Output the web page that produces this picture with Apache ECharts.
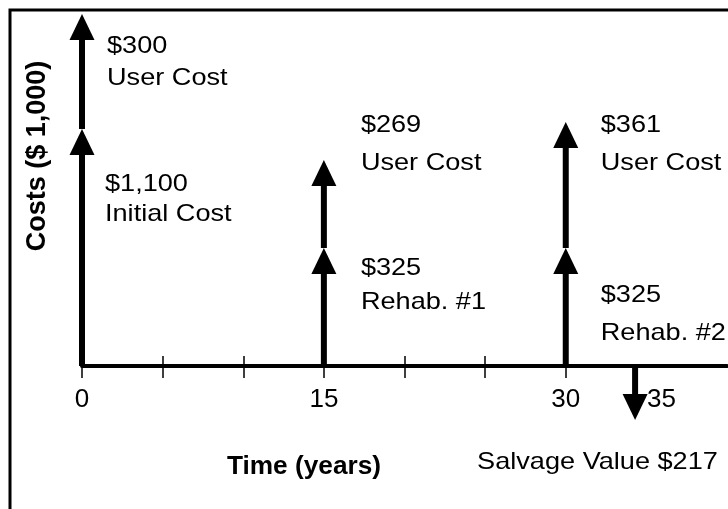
<!DOCTYPE html>
<html>
<head>
<meta charset="utf-8">
<script src="https://cdn.jsdelivr.net/npm/echarts@6/dist/echarts.min.js"></script>
<style>
  html, body { margin: 0; padding: 0; background: #fff; }
  #chart { width: 728px; height: 509px; }
</style>
</head>
<body>
<div id="chart"></div>
<script>
const FONT = "'Liberation Sans', Arial, sans-serif"
const STRETCH = 1.13 // text in the source figure is drawn a bit wide

// cash flows (year as drawn, amount in $1,000, label)
const years = [0, 0, 15, 15, 30, 30, 34.3]
const amounts = [1100, 300, 325, 269, 325, 361, 217]
const costNames = ['Initial Cost', 'User Cost', 'Rehab. #1', 'User Cost', 'Rehab. #2', 'User Cost', 'Salvage Value']
// arrow lengths as drawn in the diagram (schematic, not to scale)
const arrowLengths = [237, 115, 118, 88, 118, 126, -54]

const tickYears = [0, 5, 10, 15, 20, 25, 30]
const labelYears = [0, 15, 30, 35]

// label placement relative to the arrow tip: [dx, dy, lineHeight]
const labelOffsets = [
  [23, 40, 30],
  [25, 16, 32],
  [37, 3, 34],
  [37, -54, 38],
  [35, 28, 38],
  [35, -16, 38],
  [-158, 27, 30]
]

// stack arrows that share a year
const flows = []
const tops = {}
years.forEach((yr, i) => {
  const len = arrowLengths[i]
  const base = len > 0 ? (tops[yr] || 0) : 0
  const tip = base + len
  if (len > 0) tops[yr] = tip
  flows.push([yr, base, tip, i])
})

const labelText = (i) => {
  const amt = '$' + amounts[i].toLocaleString('en-US')
  return arrowLengths[i] < 0
    ? costNames[i] + ' ' + amt
    : amt + '\n' + costNames[i]
}

const renderArrow = (params, api) => {
  const x = api.value(0)
  const p0 = api.coord([x, api.value(1)])
  const p1 = api.coord([x, api.value(2)])
  const i = api.value(3)
  const dir = p1[1] < p0[1] ? -1 : 1
  const head = 26
  const half = 12.5
  const w = 6
  const neck = p1[1] - dir * head
  const off = labelOffsets[i]
  return {
    type: 'group',
    children: [
      {
        type: 'rect',
        shape: { x: p0[0] - w / 2, y: Math.min(p0[1], neck), width: w, height: Math.abs(neck - p0[1]) },
        style: { fill: '#000' }
      },
      {
        type: 'polygon',
        shape: { points: [[p0[0] - half, neck], [p0[0] + half, neck], [p0[0], p1[1]]] },
        style: { fill: '#000' }
      },
      {
        type: 'text',
        x: p0[0] + off[0],
        y: p1[1] + off[1],
        scaleX: STRETCH,
        style: {
          text: labelText(i),
          fill: '#000',
          font: '24px ' + FONT,
          lineHeight: off[2],
          align: 'left',
          verticalAlign: 'top'
        }
      }
    ]
  }
}

const chart = echarts.init(document.getElementById('chart'), null, { renderer: 'canvas' })

const gridBox = { left: 82, right: 1, top: 15, bottom: 143 }

chart.setOption({
  animation: false,
  backgroundColor: '#fff',
  grid: [gridBox, gridBox],
  xAxis: [
    {
      type: 'value',
      gridIndex: 0,
      min: 0,
      max: 40,
      axisLine: { onZero: true, lineStyle: { color: '#000', width: 4 } },
      axisTick: { customValues: tickYears, length: 12, lineStyle: { color: '#000', width: 1.5 } },
      axisLabel: {
        customValues: labelYears,
        margin: 21,
        color: '#000',
        fontSize: 26,
        fontFamily: FONT,
        formatter: (v) => (v === 35 ? '{r|35}' : String(v)),
        rich: { r: { fontSize: 26, fontFamily: FONT, color: '#000', padding: [0, 0, 0, 30] } }
      },
      splitLine: { show: false }
    },
    {
      // upper half of the tick marks
      type: 'value',
      gridIndex: 1,
      min: 0,
      max: 40,
      axisLine: { show: false, onZero: true },
      axisTick: { inside: true, customValues: tickYears, length: 10, lineStyle: { color: '#000', width: 1.5 } },
      axisLabel: { show: false },
      splitLine: { show: false }
    }
  ],
  yAxis: [
    { type: 'value', gridIndex: 0, min: 0, max: 351, show: false },
    { type: 'value', gridIndex: 1, min: 0, max: 351, show: false }
  ],
  graphic: [
    {
      type: 'rect',
      shape: { x: 10, y: 10, width: 760, height: 560 },
      style: { fill: 'none', stroke: '#000', lineWidth: 3 },
      silent: true
    },
    {
      type: 'text',
      x: 38,
      y: 156,
      rotation: Math.PI / 2,
      style: {
        text: 'Costs ($ 1,000)',
        font: 'bold 27px ' + FONT,
        fill: '#000',
        align: 'center',
        verticalAlign: 'middle'
      }
    },
    {
      type: 'text',
      x: 304,
      y: 467,
      scaleX: 1.05,
      style: {
        text: 'Time (years)',
        font: 'bold 25px ' + FONT,
        fill: '#000',
        align: 'center',
        verticalAlign: 'middle'
      }
    }
  ],
  series: [
    {
      type: 'custom',
      xAxisIndex: 0,
      yAxisIndex: 0,
      renderItem: renderArrow,
      encode: { x: 0, y: [1, 2] },
      data: flows,
      clip: false,
      z: 5
    }
  ]
})
</script>
</body>
</html>
